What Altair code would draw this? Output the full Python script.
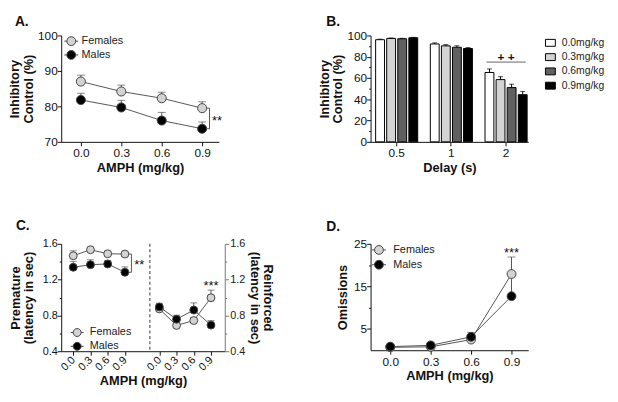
import altair as alt
import pandas as pd

FONT = "Liberation Sans"
INK = "#111111"
LINE_GRAY = "#555555"

# ---------------- shared ----------------
doses = [0.0, 0.3, 0.6, 0.9]
dose_labels = ["0.0", "0.3", "0.6", "0.9"]
sexes = ["Females", "Males"]
sex_colors = ["#d3d3d3", "#000000"]
panel_labels = ["A.", "B.", "C.", "D."]
amph_title = "AMPH (mg/kg)"

# ---------------- panel A ----------------
a_fem = [87.0, 84.2, 82.3, 79.5]
a_fem_err = [1.8, 1.8, 1.7, 1.8]
a_male = [81.8, 79.7, 76.0, 73.7]
a_male_err = [1.9, 2.0, 2.3, 1.9]
a_y_ticks = [70, 80, 90, 100]
a_sig = "**"

# ---------------- panel B ----------------
delays = ["0.5", "1", "2"]
b_doses = ["0.0mg/kg", "0.3mg/kg", "0.6mg/kg", "0.9mg/kg"]
b_colors = ["#ffffff", "#d3d3d3", "#606060", "#000000"]
b_mean_05 = [96.0, 97.2, 96.9, 97.8]
b_err_05 = [0.5, 0.4, 0.4, 0.4]
b_mean_1 = [92.0, 90.2, 88.9, 87.7]
b_err_1 = [1.0, 1.2, 1.4, 0.9]
b_mean_2 = [65.2, 58.5, 51.0, 44.3]
b_err_2 = [3.3, 2.7, 3.2, 3.1]
b_y_ticks = [0, 10, 20, 30, 40, 50, 60, 70, 80, 90, 100]
b_sig = "+ +"
b_sig_delay = "2"

# ---------------- panel C ----------------
c_prem_fem = [1.467, 1.534, 1.489, 1.486]
c_prem_fem_err = [0.055, 0.02, 0.02, 0.02]
c_prem_male = [1.338, 1.367, 1.375, 1.282]
c_prem_male_err = [0.066, 0.055, 0.04, 0.06]
c_reinf_fem = [0.873, 0.688, 0.743, 0.998]
c_reinf_fem_err = [0.03, 0.03, 0.03, 0.085]
c_reinf_male = [0.895, 0.758, 0.86, 0.692]
c_reinf_male_err = [0.04, 0.044, 0.08, 0.05]
c_y_ticks = [0.4, 0.6, 0.8, 1.0, 1.2, 1.4, 1.6]
c_sig_prem = "**"
c_sig_reinf = "***"

# ---------------- panel D ----------------
d_fem = [0.7, 0.8, 2.5, 17.9]
d_fem_err = [0.3, 0.3, 1.0, 4.0]
d_male = [0.85, 1.15, 3.15, 12.7]
d_male_err = [0.3, 0.3, 1.05, 5.0]
d_y_ticks = [5, 10, 15, 20, 25]
d_sig = "***"

LEG_RECT = "M-1,-0.7L1,-0.7L1,0.7L-1,0.7Z"


def leg_circle(r):
    # circle of radius r with short line stubs out to the unit box edges
    return (f"M-1,0L-{r},0M{r},0L1,0M-{r},0"
            f"A{r},{r},0,1,1,{r},0A{r},{r},0,1,1,-{r},0Z")


def sex_frame(xs, fem, fem_err, male, male_err):
    rows = []
    for sex, vals, errs in ((sexes[0], fem, fem_err), (sexes[1], male, male_err)):
        for x, v, e in zip(xs, vals, errs):
            rows.append({"x": x, "sex": sex, "mean": v, "top": v + e})
    return pd.DataFrame(rows)


def sex_legend(lx, ly, size, r, row_pad, label_offset):
    return alt.Legend(title=None, orient="none", legendX=lx, legendY=ly,
                      symbolType=leg_circle(r), symbolSize=size,
                      symbolStrokeColor="#444444", symbolStrokeWidth=1,
                      symbolOpacity=1, labelFont=FONT, labelFontSize=11,
                      labelColor="#222222", rowPadding=row_pad,
                      labelOffset=label_offset, padding=0)


def sex_fill(legend):
    return alt.Fill("sex:N", scale=alt.Scale(domain=sexes, range=sex_colors),
                    legend=legend)


def sex_layers(df, X, Y, pt_size, cap=7):
    base = alt.Chart(df)
    line = base.mark_line(color=LINE_GRAY, strokeWidth=1).encode(
        x=X, y=Y("mean"), detail="sex:N")
    err = base.mark_rule(color=LINE_GRAY, strokeWidth=1).encode(
        x=X, y=Y("mean"), y2=alt.Y2("top"))
    caps = base.mark_tick(color=LINE_GRAY, thickness=1, size=cap,
                          orient="horizontal").encode(x=X, y=Y("top"))
    pts = base.mark_point(filled=True, opacity=1, size=pt_size,
                          stroke="#444444", strokeWidth=1).encode(
        x=X, y=Y("mean"), fill=sex_fill(None))
    return [line, err, caps], pts


def legend_layer(df, X, Y, legend, size, r):
    # draws nothing itself: only carries the legend with a line-and-circle symbol
    return alt.Chart(df).transform_filter("false").mark_point(
        shape=leg_circle(r), filled=True, opacity=1, size=size,
        stroke="#444444", strokeWidth=1).encode(
        x=X, y=Y("mean"), fill=sex_fill(legend))


def panel_label(text, dx, dy):
    return alt.Chart(pd.DataFrame({"label": [text]})).mark_text(
        align="left", baseline="top", font=FONT, fontSize=14,
        fontWeight="bold", color=INK).encode(
        text="label:N", x=alt.value(dx), y=alt.value(dy))


def bracket(df, X, Y, off_in, off_out, text_dx, text_dy):
    base = alt.Chart(df)
    v = base.mark_rule(color=LINE_GRAY, xOffset=off_out).encode(
        x=X, y=Y("yf"), y2=alt.Y2("ym"))
    t1 = base.mark_rule(color=LINE_GRAY, xOffset=off_in, x2Offset=off_out).encode(
        x=X, x2=alt.X2("x"), y=Y("yf"))
    t2 = base.mark_rule(color=LINE_GRAY, xOffset=off_in, x2Offset=off_out).encode(
        x=X, x2=alt.X2("x"), y=Y("ym"))
    txt = base.mark_text(align="left", baseline="middle", dx=text_dx, dy=text_dy,
                         font=FONT, fontSize=13, color=INK).encode(
        x=X, y=Y("ymid"), text="label:N")
    return [v, t1, t2, txt]


def minor_size(test):
    return {"condition": {"test": test, "value": 2}, "value": 4}


# ---------------- A ----------------
dose_x = alt.X("x:Q", scale=alt.Scale(domain=[-0.146, 1.024], nice=False, zero=False),
               axis=alt.Axis(values=doses, format=".1f", title=amph_title,
                             labelPadding=2, titlePadding=3))
a_scale = alt.Scale(domain=[a_y_ticks[0], a_y_ticks[-1]], nice=False, zero=False)
a_axis = alt.Axis(values=a_y_ticks, title=["Inhibitory", "Control (%)"],
                  titlePadding=2, titleLineHeight=14, labelPadding=0)


def a_y(f):
    return alt.Y(f"{f}:Q", scale=a_scale, axis=a_axis)


a_df = sex_frame(doses, a_fem, a_fem_err, a_male, a_male_err)
a_base, a_pts = sex_layers(a_df, dose_x, a_y, 85, cap=8)
a_leg = legend_layer(a_df, dose_x, a_y, sex_legend(2.7, -1.7, 196, 0.64, 0, 3), 196, 0.64)
a_br = pd.DataFrame({"x": [doses[-1]], "yf": [a_fem[-1]], "ym": [a_male[-1]],
                     "ymid": [(a_fem[-1] + a_male[-1]) / 2], "label": [a_sig]})
chart_a = alt.layer(a_leg, *a_base, *bracket(a_br, dose_x, a_y, 5, 7.5, 10, 3), a_pts,
                    panel_label(panel_labels[0], -47, -21)).properties(width=160, height=108)

# ---------------- B ----------------
b_rows = []
for delay, means, errs in ((delays[0], b_mean_05, b_err_05),
                           (delays[1], b_mean_1, b_err_1),
                           (delays[2], b_mean_2, b_err_2)):
    for dose, m, e in zip(b_doses, means, errs):
        b_rows.append({"delay": delay, "dose": dose, "mean": m, "top": m + e})
b_df = pd.DataFrame(b_rows)

b_x = alt.X("delay:N", sort=delays,
            scale=alt.Scale(paddingInner=0.19, paddingOuter=0.036, align=1),
            axis=alt.Axis(title="Delay (s)", labelAngle=0, labelPadding=2, titlePadding=3))
b_xo = alt.XOffset("dose:N", sort=b_doses,
                   scale=alt.Scale(paddingInner=0.2, paddingOuter=0.1))
b_scale = alt.Scale(domain=[b_y_ticks[0], b_y_ticks[-1]], nice=False)
b_axis = alt.Axis(values=b_y_ticks, labelExpr="datum.value % 20 == 0 ? datum.label : ''",
                  tickSize=minor_size("datum.value % 20 != 0"), labelOverlap=False,
                  title=["Inhibitory", "Control (%)"], titlePadding=2,
                  titleLineHeight=14, labelPadding=0)


def b_y(f):
    return alt.Y(f"{f}:Q", scale=b_scale, axis=b_axis)


b_base = alt.Chart(b_df)
b_bars = b_base.mark_bar(stroke="black", strokeWidth=1).encode(
    x=b_x, xOffset=b_xo, y=b_y("mean"),
    fill=alt.Fill("dose:N", sort=b_doses,
                  scale=alt.Scale(domain=b_doses, range=b_colors),
                  legend=alt.Legend(title=None, orient="none", legendX=177, legendY=2,
                                    symbolType=LEG_RECT, symbolSize=100,
                                    symbolStrokeColor="black", symbolStrokeWidth=1,
                                    labelFont=FONT, labelFontSize=10.5,
                                    labelColor="#222222", rowPadding=3.5,
                                    labelOffset=6, padding=0)))
b_err = b_base.mark_rule(color="black", strokeWidth=1).encode(
    x=b_x, xOffset=b_xo, y=b_y("mean"), y2=alt.Y2("top"))
b_cap = b_base.mark_tick(color="black", thickness=1, size=5, orient="horizontal").encode(
    x=b_x, xOffset=b_xo, y=b_y("top"))
b_sig_df = pd.DataFrame({"delay": [b_sig_delay],
                         "level": [max(m + e for m, e in zip(b_mean_2, b_err_2))],
                         "label": [b_sig]})
b_sig_rule = alt.Chart(b_sig_df).mark_rule(color="#666666", xOffset=-20, x2Offset=20,
                                           yOffset=-7).encode(
    x=b_x, x2=alt.X2("delay"), y=b_y("level"))
b_sig_text = alt.Chart(b_sig_df).mark_text(font=FONT, fontSize=12, fontWeight="bold",
                                           dy=-12, baseline="middle", color=INK).encode(
    x=b_x, y=b_y("level"), text="label:N")
chart_b = alt.layer(b_bars, b_err, b_cap, b_sig_rule, b_sig_text,
                    panel_label(panel_labels[1], -45, -21)).properties(width=160, height=108)

# ---------------- C ----------------
c_pos_p = [float(i) for i in range(len(doses))]
c_pos_r = [float(i + len(doses) + 1) for i in range(len(doses))]
c_sep = 4.45
c_label_arr = "[" + ",".join(f"'{s}'" for s in dose_labels) + "]"
c_x = alt.X("x:Q", scale=alt.Scale(domain=[-0.7, 8.8], nice=False, zero=False),
            axis=alt.Axis(values=c_pos_p + c_pos_r,
                          labelExpr=f"{c_label_arr}[datum.value % 5]",
                          labelAngle=315, labelAlign="right", labelBaseline="middle",
                          labelFontSize=11, labelPadding=3, labelOverlap=False,
                          title=amph_title, titlePadding=2))
c_scale = alt.Scale(domain=[c_y_ticks[0], c_y_ticks[-1]], nice=False, zero=False)
c_major = "round(datum.value * 10) % 4 == 0"
c_axis_l = alt.Axis(values=c_y_ticks, format=".1f",
                    labelExpr=f"{c_major} ? datum.label : ''",
                    tickSize=minor_size("round(datum.value * 10) % 4 != 0"),
                    labelOverlap=False, labelFontSize=11, labelPadding=0,
                    title=["Premature", "(latency in sec)"], titlePadding=7,
                    titleLineHeight=13.5)
c_axis_r = alt.Axis(orient="right", values=c_y_ticks, format=".1f",
                    labelExpr=f"{c_major} ? datum.label : ''",
                    tickSize=minor_size("round(datum.value * 10) % 4 != 0"),
                    labelOverlap=False, labelFontSize=11, labelPadding=1,
                    domainColor="#777777", tickColor="#777777", labelColor="#222222",
                    title=["Reinforced", "(latency in sec)"], titlePadding=3,
                    titleLineHeight=13.5)


def c_yl(f):
    return alt.Y(f"{f}:Q", scale=c_scale, axis=c_axis_l)


def c_yr(f):
    return alt.Y(f"{f}:Q", scale=c_scale, axis=c_axis_r)


cp_df = sex_frame(c_pos_p, c_prem_fem, c_prem_fem_err, c_prem_male, c_prem_male_err)
cr_df = sex_frame(c_pos_r, c_reinf_fem, c_reinf_fem_err, c_reinf_male, c_reinf_male_err)
cp_base, cp_pts = sex_layers(cp_df, c_x, c_yl, 64, cap=7)
cr_base, cr_pts = sex_layers(cr_df, c_x, c_yr, 64, cap=7)
c_leg = legend_layer(cp_df, c_x, c_yl, sex_legend(9.2, 83, 169, 0.62, 0, 5.8), 169, 0.62)
c_sep_rule = alt.Chart(pd.DataFrame({"x": [c_sep]})).mark_rule(
    color="#555555", strokeWidth=1.2, strokeDash=[3, 2.5]).encode(x=c_x)
c_br = pd.DataFrame({"x": [c_pos_p[-1]], "yf": [c_prem_fem[-1]], "ym": [c_prem_male[-1]],
                     "ymid": [(c_prem_fem[-1] + c_prem_male[-1]) / 2],
                     "label": [c_sig_prem]})
c_star = pd.DataFrame({"x": [c_pos_r[-1]],
                       "top": [c_reinf_fem[-1] + c_reinf_fem_err[-1]],
                       "label": [c_sig_reinf]})
c_star_text = alt.Chart(c_star).mark_text(font=FONT, fontSize=13, dy=-4,
                                          baseline="middle", color=INK).encode(
    x=c_x, y=c_yr("top"), text="label:N")
c_left = alt.layer(c_leg, c_sep_rule, *cp_base,
                   *bracket(c_br, c_x, c_yl, 4, 6.6, 9.5, 1.5),
                   cp_pts, panel_label(panel_labels[2], -46, -25))
c_right = alt.layer(*cr_base, c_star_text, cr_pts)
chart_c = alt.layer(c_left, c_right).resolve_scale(y="independent").properties(
    width=166, height=109)

# ---------------- D ----------------
d_scale = alt.Scale(domain=[0, d_y_ticks[-1]], nice=False, zero=True)
d_axis = alt.Axis(values=d_y_ticks, labelExpr="datum.value % 10 == 5 ? datum.label : ''",
                  tickSize=minor_size("datum.value % 10 == 0"), labelOverlap=False,
                  title="Omissions", titlePadding=4, labelPadding=0)


def d_y(f):
    return alt.Y(f"{f}:Q", scale=d_scale, axis=d_axis)


d_df = sex_frame(doses, d_fem, d_fem_err, d_male, d_male_err)
d_base, d_pts = sex_layers(d_df, dose_x, d_y, 80, cap=8)
d_leg = legend_layer(d_df, dose_x, d_y, sex_legend(1, -1.3, 196, 0.64, 1, 7), 196, 0.64)
d_star = pd.DataFrame({"x": [doses[-1]], "top": [d_fem[-1] + d_fem_err[-1]],
                       "label": [d_sig]})
d_star_text = alt.Chart(d_star).mark_text(font=FONT, fontSize=13, dy=-4,
                                          baseline="middle", color=INK).encode(
    x=dose_x, y=d_y("top"), text="label:N")
chart_d = alt.layer(d_leg, *d_base, d_star_text, d_pts,
                    panel_label(panel_labels[3], -45, -24)).properties(width=160, height=108)

# ---------------- assemble ----------------
chart = alt.concat(
    chart_a, chart_b, chart_c, chart_d, columns=2,
    spacing={"row": 103.5, "column": 148}, bounds="flush"
).resolve_scale(fill="independent").properties(
    padding={"left": 0, "top": 4, "right": 5, "bottom": 0}, background="white"
).configure_axis(
    labelFont=FONT, titleFont=FONT, labelFontSize=12, titleFontSize=13,
    titleFontWeight="bold", labelColor=INK, titleColor=INK, domainColor=INK,
    tickColor=INK, grid=False, tickSize=4, labelPadding=1, domainWidth=1, tickWidth=1
).configure_view(strokeWidth=0)

chart.save("out.html", embed_options={"renderer": "svg", "actions": False})
